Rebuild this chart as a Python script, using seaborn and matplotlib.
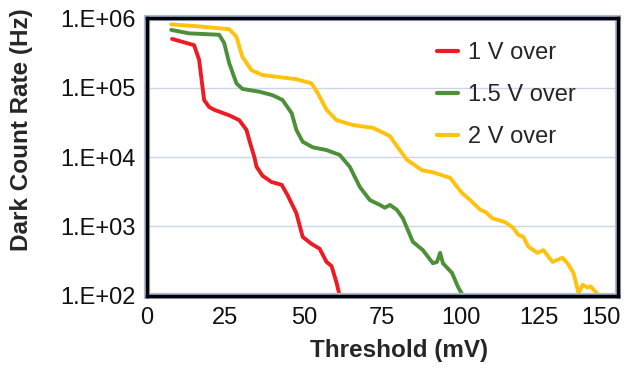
import numpy as np
import pandas as pd
import matplotlib
matplotlib.use("Agg")
import matplotlib.pyplot as plt
import seaborn as sns
from matplotlib.ticker import FixedLocator, FuncFormatter
from matplotlib.patches import Rectangle
import matplotlib.transforms as mtransforms

# ---- data (threshold mV, log10 dark count rate Hz) ----
red_x = [8.0, 15.0, 16.6, 18.2, 19.8, 21.4, 26.2, 29.4, 31.7, 32.6, 34.2, 34.9, 36.8, 39.7, 42.9,
         44.8, 47.6, 49.6, 52.4, 55.0, 57.2, 58.8, 60.4, 61.4]
red_log = [5.70, 5.61, 5.40, 4.82, 4.72, 4.68, 4.60, 4.53, 4.39, 4.24, 4.00, 3.86, 3.73, 3.64, 3.60,
           3.45, 3.19, 2.85, 2.75, 2.68, 2.49, 2.43, 2.19, 2.00]

green_x = [7.7, 13.4, 23.0, 24.6, 26.2, 28.5, 30.4, 35.8, 40.0, 43.2, 46.1, 47.6, 49.6, 52.8, 57.2,
           61.4, 64.6, 67.8, 71.0, 74.2, 75.8, 77.4, 79.6, 81.5, 83.1, 84.7, 87.9, 91.1, 92.4, 93.4,
           94.3, 97.2, 99.1, 100.7]
green_log = [5.83, 5.78, 5.76, 5.64, 5.35, 5.06, 4.98, 4.94, 4.89, 4.82, 4.63, 4.39, 4.22, 4.14, 4.10,
             4.03, 3.86, 3.57, 3.38, 3.31, 3.27, 3.31, 3.24, 3.12, 2.95, 2.78, 2.66, 2.47, 2.49, 2.62,
             2.47, 2.33, 2.13, 2.00]

yellow_x = [7.7, 16.6, 26.2, 28.5, 30.4, 33.3, 36.8, 42.2, 47.6, 52.4, 54.4, 57.2, 60.4, 65.6, 72.0,
            77.4, 79.9, 82.8, 87.6, 91.1, 96.6, 100.4, 103.0, 106.2, 107.8, 110.0, 114.2, 116.7, 118.3,
            119.9, 121.5, 124.4, 126.3, 129.2, 132.4, 134.0, 135.9, 137.5, 138.8, 140.4, 141.3, 142.9, 143.9]
yellow_log = [5.91, 5.88, 5.84, 5.73, 5.44, 5.25, 5.18, 5.15, 5.12, 5.06, 4.92, 4.68, 4.53, 4.46, 4.42,
              4.30, 4.14, 3.96, 3.81, 3.78, 3.70, 3.48, 3.38, 3.24, 3.21, 3.12, 3.06, 2.98, 2.88,
              2.85, 2.71, 2.62, 2.66, 2.49, 2.55, 2.47, 2.33, 2.04, 2.16, 2.12, 2.14, 2.06, 2.00]

series_names = ["1 V over", "1.5 V over", "2 V over"]
colors = ["#ED1C24", "#4E8F3A", "#FFC20E"]
x_ticks = [0, 25, 50, 75, 100, 125, 150]
y_ticks = [1e2, 1e3, 1e4, 1e5, 1e6]

frames = []
for name, xs, ls in zip(series_names, [red_x, green_x, yellow_x], [red_log, green_log, yellow_log]):
    frames.append(pd.DataFrame({"Threshold": xs, "Rate": 10 ** np.array(ls), "Series": name}))
df = pd.concat(frames, ignore_index=True)

sns.set_theme(style="white")
plt.rcParams["font.family"] = ["Liberation Sans", "DejaVu Sans"]

fig = plt.figure(figsize=(6.24, 3.69), dpi=100)
ax = fig.add_axes([0.2356, 0.198, 0.7544, 0.753])

sns.lineplot(data=df, x="Threshold", y="Rate", hue="Series", palette=colors,
             hue_order=series_names, sort=False, linewidth=2.8, ax=ax, legend=True)
for ln in ax.get_lines():
    ln.set_solid_joinstyle("round")
    ln.set_solid_capstyle("round")

ax.set_yscale("log")
ax.set_xlim(0, 150)
ax.set_ylim(1e2, 1e6)
ax.xaxis.set_major_locator(FixedLocator(x_ticks))
ax.yaxis.set_major_locator(FixedLocator(y_ticks))
ax.yaxis.set_minor_locator(FixedLocator([]))
ax.yaxis.set_major_formatter(FuncFormatter(lambda v, p: "1.E+%02d" % int(round(np.log10(v)))))
ax.tick_params(axis="both", which="major", labelsize=17, length=4, width=1,
               direction="out", pad=4, color="#b8c4d8", labelcolor="#111111")
ax.grid(axis="y", color="#ccd5e6", linewidth=1)
ax.grid(axis="x", visible=False)

# light blue outline behind the black frame
ax.add_patch(Rectangle((0, 0), 1, 1, transform=ax.transAxes, fill=False,
                       edgecolor="#a9bcd9", linewidth=4.5, clip_on=False, zorder=2.4))
for s in ax.spines.values():
    s.set_color("black")
    s.set_linewidth(2.5)
    s.set_visible(True)
    s.set_zorder(2.6)

ax.set_xlabel("Threshold (mV)", fontsize=17.5, fontweight="bold")
ax.set_ylabel("Dark Count Rate (Hz)", fontsize=17.5, fontweight="bold")
ax.xaxis.set_label_coords(0.535, -0.156)
ax.yaxis.set_label_coords(-0.242, 0.60)

fig.canvas.draw()
last = ax.get_xticklabels()[-1]
last.set_horizontalalignment("right")
last.set_transform(last.get_transform() + mtransforms.ScaledTranslation(3 / 100, 0, fig.dpi_scale_trans))

leg = ax.legend(loc="upper right", frameon=False, fontsize=17, handlelength=0.9,
                handletextpad=0.4, labelspacing=0.85, bbox_to_anchor=(0.955, 0.99))
for h in leg.get_lines():
    h.set_linewidth(3)

fig.savefig("out.png", dpi=100)
